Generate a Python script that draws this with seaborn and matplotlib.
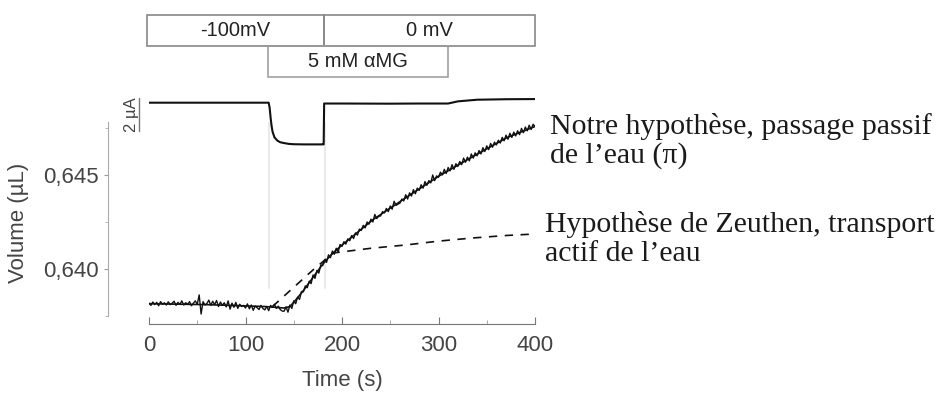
import numpy as np
import pandas as pd
import seaborn as sns
import matplotlib.pyplot as plt

# --- data ---
# membrane current (uA)
current_t = [0, 124, 125, 126, 127, 128, 130, 133, 136, 140, 145, 150, 160, 170, 180, 181,
             181.5, 200, 250, 280, 310, 320, 340, 370, 400]
current_ua = [0, 0, -0.3, -0.9, -1.4, -1.75, -2.1, -2.3, -2.4, -2.45, -2.5, -2.52, -2.53, -2.53,
              -2.53, -2.53, -0.05, -0.05, -0.06, -0.05, -0.05, 0.08, 0.18, 0.21, 0.22]

# raw oocyte volume (uL), one sample every 2 s
raw_t = list(range(0, 401, 2))
raw_vol = [
    0.63818, 0.63806, 0.63824, 0.63810, 0.63822, 0.63804, 0.63826, 0.63812, 0.63820, 0.63808,
    0.63825, 0.63810, 0.63818, 0.63828, 0.63806, 0.63822, 0.63812, 0.63830, 0.63808, 0.63820,
    0.63812, 0.63826, 0.63804, 0.63818, 0.63830, 0.63812, 0.63862, 0.63760, 0.63826, 0.63808,
    0.63816, 0.63834, 0.63806, 0.63828, 0.63810, 0.63832, 0.63800, 0.63824, 0.63806, 0.63820,
    0.63798, 0.63830, 0.63786, 0.63818, 0.63796, 0.63822, 0.63790, 0.63812, 0.63800, 0.63806,
    0.63792, 0.63814, 0.63788, 0.63808, 0.63780, 0.63802, 0.63794, 0.63784, 0.63806, 0.63790,
    0.63782, 0.63800, 0.63778, 0.63806, 0.63796, 0.63812, 0.63790, 0.63802, 0.63784, 0.63776,
    0.63775, 0.63798, 0.63770, 0.63808, 0.63790, 0.63830, 0.63815, 0.63850, 0.63838, 0.63880,
    0.63878, 0.63910, 0.63900, 0.63935, 0.63922, 0.63968, 0.63950, 0.63992, 0.63978, 0.64020,
    0.64018, 0.64050, 0.64035, 0.64075, 0.64060, 0.64095, 0.64078, 0.64110, 0.64090, 0.64130,
    0.64120, 0.64145, 0.64132, 0.64160, 0.64150, 0.64178, 0.64162, 0.64192, 0.64180, 0.64212,
    0.64205, 0.64232, 0.64218, 0.64250, 0.64238, 0.64265, 0.64250, 0.64290, 0.64268, 0.64280,
    0.64282, 0.64305, 0.64298, 0.64322, 0.64305, 0.64335, 0.64318, 0.64360, 0.64338, 0.64345,
    0.64350, 0.64372, 0.64362, 0.64395, 0.64372, 0.64405, 0.64388, 0.64422, 0.64400, 0.64430,
    0.64418, 0.64448, 0.64430, 0.64465, 0.64445, 0.64470, 0.64458, 0.64500, 0.64470, 0.64495,
    0.64488, 0.64515, 0.64500, 0.64530, 0.64508, 0.64540, 0.64522, 0.64555, 0.64530, 0.64560,
    0.64545, 0.64572, 0.64555, 0.64590, 0.64568, 0.64595, 0.64575, 0.64612, 0.64590, 0.64618,
    0.64602, 0.64630, 0.64612, 0.64645, 0.64625, 0.64655, 0.64635, 0.64668, 0.64648, 0.64675,
    0.64660, 0.64685, 0.64670, 0.64700, 0.64682, 0.64712, 0.64690, 0.64722, 0.64700, 0.64728,
    0.64708, 0.64735, 0.64715, 0.64748, 0.64725, 0.64755, 0.64735, 0.64765, 0.64742, 0.64770,
    0.64758]

# passive water model (solid)
fit_t = [0, 60, 120, 140, 146, 150, 160, 170, 180, 190, 200, 232, 267, 301, 336, 371, 395, 400]
fit_vol = [0.63815, 0.63810, 0.63800, 0.63792, 0.63800, 0.63822, 0.63885, 0.63955, 0.64025, 0.64082,
           0.64127, 0.64262, 0.64382, 0.64496, 0.64599, 0.64699, 0.64748, 0.64758]

# Zeuthen cotransport model (dashed)
zeuthen_t = [128, 143, 170, 191, 230, 267, 300, 336, 370, 400]
zeuthen_vol = [0.63800, 0.63870, 0.63995, 0.64085, 0.64110, 0.64128, 0.64148, 0.64165, 0.64178, 0.64186]

# protocol bars
voltage_steps = [(-2, 181, '-100mV'), (181, 400, '0 mV')]
sugar_on, sugar_off = 123, 310
sugar_label = '5 mM \u03b1MG'

passive_text = 'Notre hypothèse, passage passif\nde l\u2019eau (\u03c0)'
zeuthen_text = 'Hypothèse de Zeuthen, transport\nactif de l\u2019eau'

sns.set_style('ticks')
plt.rcParams['font.family'] = ['Liberation Sans', 'DejaVu Sans']

W, H = 943, 398
fig = plt.figure(figsize=(W / 100, H / 100), dpi=100)


def box(l, t, r, b):
    return [l / W, 1 - b / H, (r - l) / W, (b - t) / H]


grey = '#444444'
ax = fig.add_axes(box(149, 122, 535, 324))
ax_cur = fig.add_axes(box(149, 90, 535, 150), sharex=ax)
ax_bar = fig.add_axes(box(149, 15, 535, 77), sharex=ax)
for a in (ax, ax_cur, ax_bar):
    a.patch.set_alpha(0)

# faint markers of the sugar step
for tt in (124, 182):
    ax.axvline(tt, ymin=0.18, ymax=1.0, color='#e6e6e6', lw=1.2, zorder=0)

raw = pd.DataFrame({'t': raw_t, 'v': raw_vol})
sns.lineplot(data=raw, x='t', y='v', ax=ax, color='#111111', lw=1.0)
sns.lineplot(x=fit_t, y=fit_vol, ax=ax, color='#111111', lw=1.2)
sns.lineplot(x=zeuthen_t, y=zeuthen_vol, ax=ax, color='#111111', lw=1.2, dashes=False,
             linestyle=(0, (5, 4.5)))

ax.set_xlim(0, 400)
ax.set_ylim(0.63707, 0.64782)
ax.set_xticks([0, 100, 200, 300, 400])
ax.set_xticks(range(50, 400, 100), minor=True)
ax.set_yticks([0.640, 0.645])
ax.set_yticklabels(['0,640', '0,645'])
ax.set_yticks([0.6375, 0.6425, 0.6475], minor=True)
ax.tick_params(axis='x', which='major', direction='in', length=5, colors='#777777',
               labelcolor=grey, labelsize=16, pad=8)
ax.tick_params(axis='x', which='minor', direction='in', length=3, colors='#999999')
ax.tick_params(axis='y', which='major', direction='out', length=3, colors='#999999',
               labelcolor=grey, labelsize=16, pad=4)
ax.tick_params(axis='y', which='minor', direction='out', length=2, colors='#aaaaaa')
sns.despine(ax=ax)
ax.spines['left'].set_position(('outward', 29.5))
ax.spines['left'].set_bounds(0.6375, 0.6478)
ax.spines['left'].set_color('#aaaaaa')
ax.spines['bottom'].set_color('#777777')
ax.spines['bottom'].set_bounds(0, 400)
ax.set_xlabel('Time (s)', fontsize=16, color=grey, labelpad=10)
ax.set_ylabel('Volume (\u00b5L)', fontsize=16, color=grey, labelpad=10)

# current trace
sns.lineplot(x=current_t, y=current_ua, ax=ax_cur, color='#111111', lw=1.5)
ax_cur.set_ylim(-2.87, 0.77)
ax_cur.axis('off')
ax_cur.plot([-10.4, -10.4], [-1.72, 0.28], color='#777777', lw=1, clip_on=False)
ax_cur.text(-18.6, -0.72, '2 \u00b5A', rotation=90, ha='center', va='center', fontsize=12,
            color=grey, clip_on=False)

# protocol boxes
ax_bar.set_ylim(0, 2)
ax_bar.axis('off')
for start, end, label in voltage_steps:
    ax_bar.add_patch(plt.Rectangle((start, 1), end - start, 1, fill=False, ec='#888888', lw=1.2,
                                   clip_on=False))
    ax_bar.text((start + end) / 2, 1.5, label, ha='center', va='center', fontsize=14.5, color='#222222')
ax_bar.add_patch(plt.Rectangle((sugar_on, 0), sugar_off - sugar_on, 1, fill=False, ec='#999999',
                               lw=1.1, clip_on=False))
ax_bar.text((sugar_on + sugar_off) / 2, 0.5, sugar_label, ha='center', va='center', fontsize=14.5,
            color='#222222')

# model annotations
fig.text(550 / W, 1 - 141 / H, passive_text, family='Liberation Serif', fontsize=21.5,
         va='center', ha='left', linespacing=1.12, color='#1a1a1a')
fig.text(545 / W, 1 - 239 / H, zeuthen_text, family='Liberation Serif', fontsize=21.5,
         va='center', ha='left', linespacing=1.12, color='#1a1a1a')

fig.savefig('out.png', dpi=100)
